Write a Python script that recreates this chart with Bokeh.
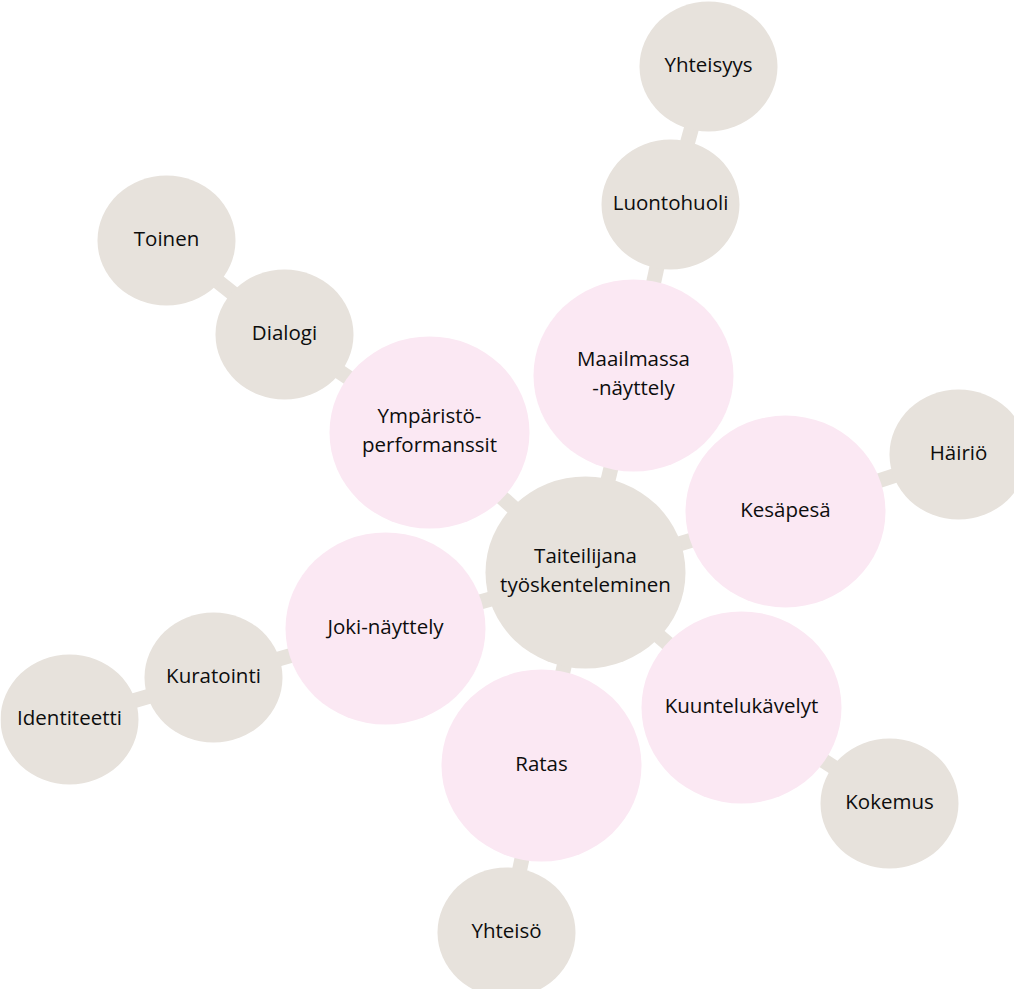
from bokeh.plotting import figure
from bokeh.models import Range1d, ColumnDataSource
from bokeh.core.properties import value
from bokeh.embed import file_html
from bokeh.resources import INLINE

# ---- data ----
names = ["Taiteilijana\ntyöskenteleminen", "Maailmassa\n-näyttely", "Ympäristö-\nperformanssit",
         "Kesäpesä", "Joki-näyttely", "Kuuntelukävelyt", "Ratas",
         "Luontohuoli", "Yhteisyys", "Dialogi", "Toinen", "Häiriö",
         "Kuratointi", "Identiteetti", "Kokemus", "Yhteisö"]
node_x = [593, 641, 437, 793, 393, 749, 549, 678, 716, 292, 174, 966, 221, 77, 897, 514]
node_y = [580, 383, 440, 519, 636, 715, 773, 212, 74, 342, 248, 462, 685, 727, 811, 940]
level = [0, 1, 1, 1, 1, 1, 1, 2, 2, 2, 2, 2, 2, 2, 2, 2]
edges = [
    ("Taiteilijana\ntyöskenteleminen", "Maailmassa\n-näyttely"),
    ("Taiteilijana\ntyöskenteleminen", "Ympäristö-\nperformanssit"),
    ("Taiteilijana\ntyöskenteleminen", "Kesäpesä"),
    ("Taiteilijana\ntyöskenteleminen", "Joki-näyttely"),
    ("Taiteilijana\ntyöskenteleminen", "Kuuntelukävelyt"),
    ("Taiteilijana\ntyöskenteleminen", "Ratas"),
    ("Maailmassa\n-näyttely", "Luontohuoli"),
    ("Luontohuoli", "Yhteisyys"),
    ("Ympäristö-\nperformanssit", "Dialogi"),
    ("Dialogi", "Toinen"),
    ("Kesäpesä", "Häiriö"),
    ("Joki-näyttely", "Kuratointi"),
    ("Kuratointi", "Identiteetti"),
    ("Kuuntelukävelyt", "Kokemus"),
    ("Ratas", "Yhteisö"),
]

# ---- styles ----
GREY = "#e7e2dc"
PINK = "#fbe8f3"
level_w = {0: 200, 1: 200, 2: 138}
level_h = {0: 192, 1: 192, 2: 130}
level_c = {0: GREY, 1: PINK, 2: GREY}

W, H = 1014, 989
p = figure(width=W, height=H, output_backend="svg", toolbar_location=None,
           x_range=Range1d(8, 8 + W), y_range=Range1d(8 + H, 8),
           min_border=0, background_fill_color="white", border_fill_color="white")
p.axis.visible = False
p.grid.visible = False
p.outline_line_color = None

idx = {n: i for i, n in enumerate(names)}
seg = ColumnDataSource(dict(
    x0=[node_x[idx[a]] for a, b in edges], y0=[node_y[idx[a]] for a, b in edges],
    x1=[node_x[idx[b]] for a, b in edges], y1=[node_y[idx[b]] for a, b in edges]))
p.segment("x0", "y0", "x1", "y1", source=seg, line_color=GREY, line_width=15)

nodes = ColumnDataSource(dict(
    x=node_x, y=node_y, name=names,
    w=[level_w[l] for l in level], h=[level_h[l] for l in level],
    c=[level_c[l] for l in level],
    ty=[v - 3 for v in node_y]))
p.ellipse("x", "y", width="w", height="h", source=nodes, fill_color="c", line_color=None)
p.text("x", "ty", text="name", source=nodes, text_align="center", text_baseline="middle",
       text_font=value("Open Sans"), text_font_size="20.5px", text_color="#0d0d0d",
       text_line_height=1.05)

open("out.html", "w").write(file_html(p, INLINE))
